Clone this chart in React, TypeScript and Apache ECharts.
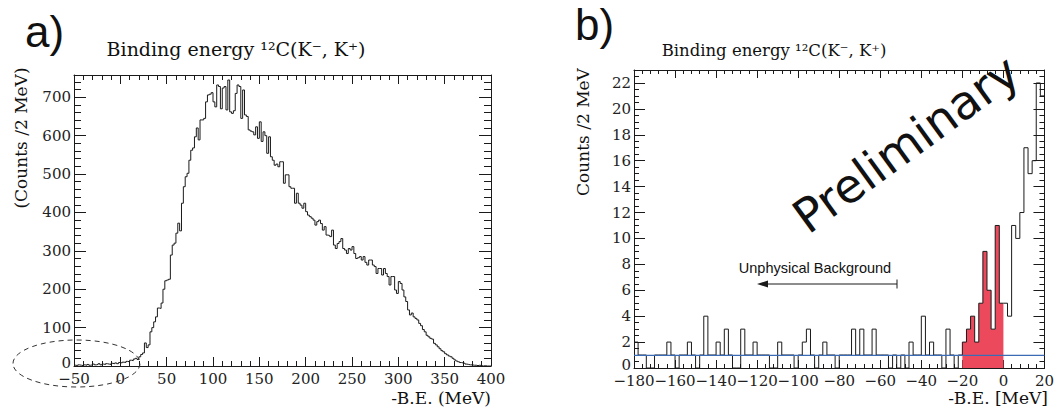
import React, { useEffect, useRef } from "react";
import * as echarts from "echarts";

// ---------- Panel a ----------
const A_X_MIN = -50;
const A_X_MAX = 400;
const A_X_STEP = 50;
const A_Y_MAX = 758;
const A_Y_STEP = 100;
const A_Y_MINOR = 20;
const A_BIN = 2;
// counts per 2 MeV bin, starting at -50 MeV
const countsA = [
  2, 1, 3, 2, 1, 3, 2, 4, 2, 3, 5, 3, 4, 6, 3, 5, 4, 6, 5, 4, 7, 6, 8, 6, 9,
  8, 10, 9, 12, 11, 15, 14, 18, 20, 17, 24, 30, 34, 60, 48, 55, 89, 100, 115, 128, 151, 150, 164, 200, 222,
  224, 226, 289, 315, 320, 346, 372, 352, 424, 467, 493, 502, 536, 562, 568, 597, 620, 589, 641, 641, 645, 688, 706, 708, 712,
  688, 675, 732, 728, 670, 724, 728, 667, 745, 662, 658, 665, 710, 732, 728, 645, 719, 654, 650, 615, 612, 610, 602, 623, 593,
  636, 585, 610, 600, 554, 597, 545, 536, 523, 526, 519, 532, 532, 476, 498, 498, 467, 463, 463, 424, 450, 424, 419, 411, 424,
  402, 393, 389, 385, 380, 367, 376, 380, 371, 354, 363, 341, 340, 337, 354, 315, 306, 319, 324, 332, 306, 302, 293, 306, 302,
  311, 293, 280, 282, 285, 276, 285, 270, 263, 276, 276, 263, 259, 241, 254, 254, 237, 254, 241, 233, 211, 233, 233, 198, 189,
  220, 215, 198, 180, 168, 146, 133, 138, 128, 124, 120, 111, 105, 95, 89, 80, 76, 72, 70, 59, 55, 50, 45, 40, 37,
  32, 29, 26, 24, 20, 16, 13, 11, 9, 8, 7, 5, 4, 3, 3, 2, 2, 1, 2, 1, 0, 1, 0, 0, 0,
];

// ---------- Panel b ----------
const B_X_MIN = -180;
const B_X_MAX = 20;
const B_X_STEP = 20;
const B_Y_MAX = 23;
const B_Y_STEP = 2;
const B_Y_MINOR = 0.5;
const B_BIN = 2;
// counts per 2 MeV bin, starting at -180 MeV
const countsB = [
  2, 1, 1, 0, 0, 1, 1, 1, 2, 1, 0, 1, 1, 2, 1, 0, 1, 4, 1, 1,
  2, 1, 3, 1, 0, 0, 3, 1, 1, 2, 1, 1, 1, 0, 0, 2, 1, 1, 1, 0,
  1, 2, 3, 1, 0, 1, 2, 1, 1, 0, 1, 1, 1, 3, 1, 3, 1, 1, 3, 1,
  1, 1, 0, 1, 0, 1, 0, 2, 1, 1, 4, 1, 2, 1, 1, 0, 3, 1, 0, 1,
  2, 3, 4, 2, 5, 9, 6, 3, 11, 5, 5, 4, 11, 10, 12, 17, 15, 16, 22, 21,
];
const signalRange = [-20, 0];
const backgroundLevel = 0.98;

const titleText = "Binding energy \u00b9\u00b2C(K\u207b, K\u207a)";
const yTitleA = "(Counts /2 MeV)";
const xTitleA = "-B.E. (MeV)";
const yTitleB = "Counts /2 MeV";
const xTitleB = "-B.E. [MeV]";
const bgLabel = "Unphysical Background";
const stampText = "Preliminary";

const SERIF = "'DejaVu Serif', 'Liberation Serif', serif";
const SANS = "'Liberation Sans', Arial, sans-serif";
const INK = "#1a1a1a";
const RED = "#ec4a5c";
const BLUE = "#3c6bb5";

const fmt = (v: number) => (v < 0 ? "\u2212" + Math.abs(v) : String(v));
const yFmt = (v: number) => (v === 0 ? "{lo|0}" : String(v));

function stepData(min: number, bin: number, counts: number[]) {
  const pts = counts.map((c, i) => [min + i * bin, c]);
  pts.push([min + counts.length * bin, counts[counts.length - 1]]);
  return pts;
}

function xAxes(grid: number, min: number, max: number, step: number, major: number, minor: number) {
  const base: any = {
    gridIndex: grid,
    type: "value",
    min,
    max,
    interval: step,
    splitLine: { show: false },
    axisLine: { show: true, onZero: false, lineStyle: { color: INK, width: 1 } },
    axisTick: { show: true, inside: true, length: major, lineStyle: { color: INK } },
    minorTick: { show: true, splitNumber: 5, length: minor, lineStyle: { color: INK } },
  };
  return [
    {
      ...base,
      position: "bottom",
      axisLabel: { show: true, formatter: fmt, fontFamily: SERIF, fontSize: 15, color: "#222", margin: 5 },
    },
    { ...base, position: "top", axisLabel: { show: false } },
  ];
}

function yAxes(grid: number, max: number, step: number, minorStep: number, major: number, minor: number) {
  const base: any = {
    gridIndex: grid,
    type: "value",
    min: 0,
    max,
    splitLine: { show: false },
  };
  const mk = (pos: string, isMajor: boolean, label: boolean) => ({
    ...base,
    position: pos,
    interval: isMajor ? step : minorStep,
    axisLine: { show: isMajor, onZero: false, lineStyle: { color: INK, width: 1 } },
    axisTick: { show: true, inside: true, length: isMajor ? major : minor, lineStyle: { color: INK } },
    axisLabel: label
      ? {
          show: true,
          showMaxLabel: false,
          formatter: yFmt,
          fontFamily: SERIF,
          fontSize: 15,
          color: "#222",
          margin: 3,
          rich: { lo: { fontFamily: SERIF, fontSize: 15, color: "#222", padding: [0, 0, 7, 0] } },
        }
      : { show: false },
  });
  return [mk("left", true, true), mk("left", false, false), mk("right", true, false), mk("right", false, false)];
}

export default function App() {
  const ref = useRef<HTMLDivElement>(null);
  useEffect(() => {
    if (!ref.current) return;
    const chart = echarts.init(ref.current, undefined, { renderer: "svg" });
    const sigStart = (signalRange[0] - B_X_MIN) / B_BIN;
    const sigEnd = (signalRange[1] - B_X_MIN) / B_BIN;
    const text = (t: string, x: number, y: number, size: number, family: string, align = "center", rot = 0, extra: any = {}) => ({
      type: "text",
      x,
      y,
      rotation: rot,
      z: 20,
      style: {
        text: t,
        fill: "#111",
        fontSize: size,
        fontFamily: family,
        align,
        textAlign: align,
        verticalAlign: "middle",
        textVerticalAlign: "middle",
        ...extra,
      },
    });
    chart.setOption({
      animation: false,
      backgroundColor: "#ffffff",
      grid: [
        { left: 74, top: 75, width: 417, height: 291 },
        { left: 634, top: 70, width: 414, height: 298 },
      ],
      xAxis: [
        ...xAxes(0, A_X_MIN, A_X_MAX, A_X_STEP, 9, 5),
        ...xAxes(1, B_X_MIN, B_X_MAX, B_X_STEP, 8, 4),
      ],
      yAxis: [
        ...yAxes(0, A_Y_MAX, A_Y_STEP, A_Y_MINOR, 12, 7),
        ...yAxes(1, B_Y_MAX, B_Y_STEP, B_Y_MINOR, 11, 5),
      ],
      series: [
        {
          type: "line",
          xAxisIndex: 0,
          yAxisIndex: 0,
          step: "end",
          symbol: "none",
          silent: true,
          data: stepData(A_X_MIN, A_BIN, countsA),
          lineStyle: { color: INK, width: 1 },
          z: 3,
        },
        {
          type: "line",
          xAxisIndex: 2,
          yAxisIndex: 4,
          step: "end",
          symbol: "none",
          silent: true,
          data: stepData(signalRange[0], B_BIN, countsB.slice(sigStart, sigEnd)),
          lineStyle: { width: 0, opacity: 0 },
          areaStyle: { color: RED, opacity: 1 },
          z: 2,
        },
        {
          type: "line",
          xAxisIndex: 2,
          yAxisIndex: 4,
          step: "end",
          symbol: "none",
          silent: true,
          data: stepData(B_X_MIN, B_BIN, countsB),
          lineStyle: { color: INK, width: 1 },
          z: 3,
        },
        {
          type: "line",
          xAxisIndex: 2,
          yAxisIndex: 4,
          symbol: "none",
          silent: true,
          data: [
            [B_X_MIN, backgroundLevel],
            [B_X_MAX, backgroundLevel],
          ],
          lineStyle: { color: BLUE, width: 1.2 },
          z: 4,
        },
      ],
      graphic: [
        text("a)", 25, 31.5, 44, SANS, "left"),
        text("b)", 575, 24.5, 44, SANS, "left"),
        text(titleText, 236, 49, 19, SERIF),
        text(titleText, 774, 50, 16.5, SERIF),
        text(yTitleA, 21, 138, 17, SERIF, "center", Math.PI / 2),
        text(yTitleB, 583, 132, 17, SERIF, "center", Math.PI / 2),
        text(xTitleA, 491, 398, 17, SERIF, "right"),
        text(xTitleB, 1048, 398, 17, SERIF, "right"),
        text(bgLabel, 815, 268, 14.5, SANS),
        text(stampText, 906, 144, 47, "'DejaVu Sans', sans-serif", "center", (36 * Math.PI) / 180),
        {
          type: "ellipse",
          z: 20,
          shape: { cx: 76.5, cy: 363.5, rx: 63.5, ry: 23.5 },
          style: { fill: "none", stroke: "#333", lineWidth: 1, lineDash: [5, 4] },
        },
        {
          type: "line",
          z: 20,
          shape: { x1: 897, y1: 284, x2: 762, y2: 284 },
          style: { stroke: INK, lineWidth: 1 },
        },
        {
          type: "line",
          z: 20,
          shape: { x1: 897, y1: 279.5, x2: 897, y2: 288.5 },
          style: { stroke: INK, lineWidth: 1 },
        },
        {
          type: "polygon",
          z: 20,
          shape: { points: [[757, 284], [768, 280.5], [768, 287.5]] },
          style: { fill: INK },
        },
      ],
    });
    return () => chart.dispose();
  }, []);
  return (
    <div
      ref={ref}
      style={{ position: "fixed", left: 0, top: 0, width: 1057, height: 415, background: "#fff" }}
    />
  );
}
